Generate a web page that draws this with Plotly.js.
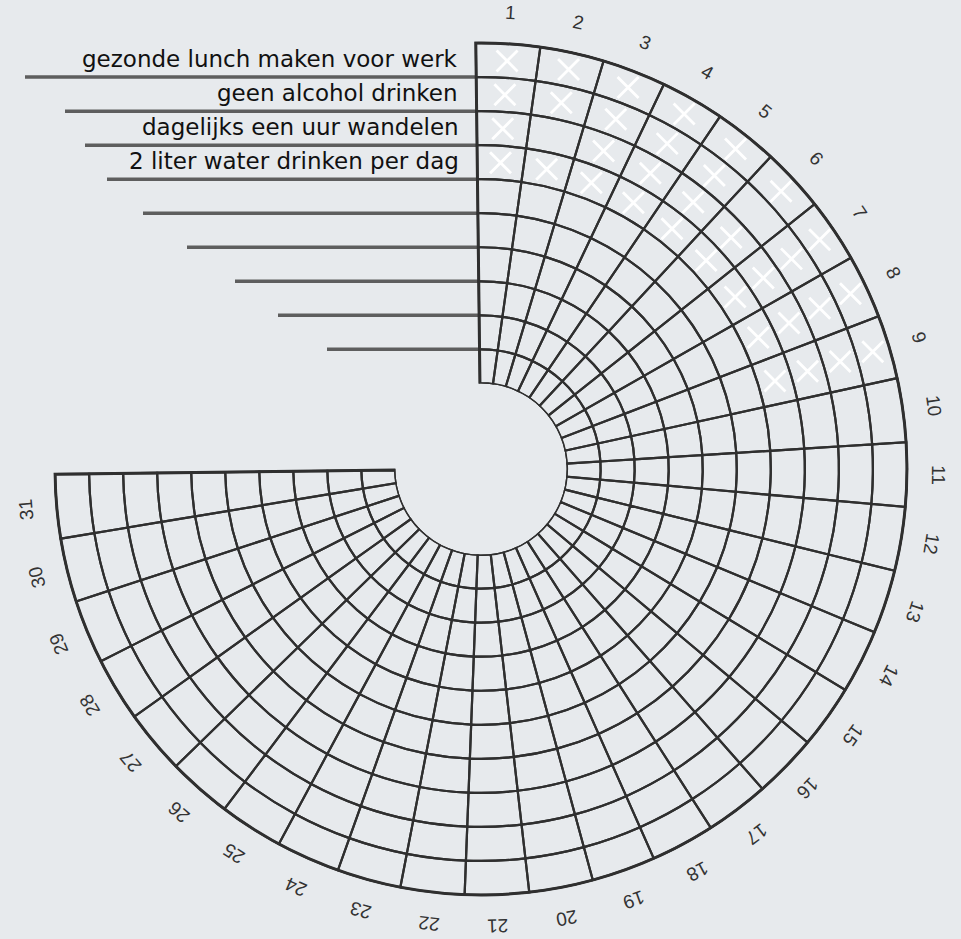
<!DOCTYPE html>
<html>
<head>
<meta charset="utf-8">
<script src="https://cdn.plot.ly/plotly-3.0.1.min.js"></script>
<style>
  html, body { margin: 0; padding: 0; background: #e7eaed; }
  #chart { width: 961px; height: 939px; }
</style>
</head>
<body>
<div id="chart"></div>
<script>
// ---------- data ----------
const days = [1,2,3,4,5,6,7,8,9,10,11,12,13,14,15,16,17,18,19,20,21,22,23,24,25,26,27,28,29,30,31];
const habits = [
  "gezonde lunch maken voor werk",
  "geen alcohol drinken",
  "dagelijks een uur wandelen",
  "2 liter water drinken per dag",
  "", "", "", "", "", ""
];
const doneLunch   = [1,2,3,4,5,6,7,8,9];
const doneAlcohol = [1,2,3,4,5,7,8,9];
const doneWalk    = [1,3,4,5,6,7,8,9];
const doneWater   = [1,2,3,4,5,6,7,8,9];
const doneByHabit = [doneLunch, doneAlcohol, doneWalk, doneWater];

// ---------- layout / style constants ----------
const W = 961, H = 939;
const SWEEP = 270;          // degrees covered by the 31 days
const START = -0.7;         // start angle, clockwise from north
const HOLE = 0.2;
const DOM = { x: [0.05515, 0.94589], y: [0.04473, 0.95634] };
const GRID = '#2f2f2f';
const BG = '#e7eaed';
const labelLineStart = [25, 65, 85, 107, 143, 187, 235, 278, 327]; // px, left ends of guide lines

const nRings = habits.length;
const rMax = nRings + 0.06;   // small headroom so the outer outline is not clipped
const dayW = SWEEP / days.length;
const thetaOf = d => (d - 0.5) * dayW;

// ---------- traces ----------
const traces = [];
habits.forEach((h, k) => {
  traces.push({
    type: 'barpolar',
    theta: days.map(thetaOf),
    r: days.map(() => 1),
    base: days.map(() => nRings - 1 - k),
    width: days.map(() => dayW),
    marker: { color: 'rgba(0,0,0,0)', line: { color: GRID, width: 2.2 } },
    hoverinfo: 'skip',
    showlegend: false
  });
});
// outline of the whole chart (thicker)
traces.push({
  type: 'barpolar',
  theta: [SWEEP / 2], r: [nRings], base: [0], width: [SWEEP],
  marker: { color: 'rgba(0,0,0,0)', line: { color: GRID, width: 3 } },
  hoverinfo: 'skip', showlegend: false
});
doneByHabit.forEach((list, k) => {
  traces.push({
    type: 'scatterpolar',
    mode: 'markers',
    theta: list.map(thetaOf),
    r: list.map(() => nRings - 1 - k + 0.5),
    marker: { symbol: 'x-thin', size: 21, color: '#ffffff', line: { color: '#ffffff', width: 2.8 } },
    hoverinfo: 'skip',
    showlegend: false
  });
});

// ---------- geometry for text & guide lines (same as plotly polar fit) ----------
const cx = W * (DOM.x[0] + DOM.x[1]) / 2;
const cy = H * (1 - (DOM.y[0] + DOM.y[1]) / 2);
const R = Math.min(W * (DOM.x[1] - DOM.x[0]), H * (DOM.y[1] - DOM.y[0])) / 2;
const R0 = R * HOLE;
const rPix = v => R0 + (R - R0) * v / rMax;
const toRad = a => a * Math.PI / 180;
const px = (rp, a) => ({ x: cx + rp * Math.sin(toRad(a)), y: cy - rp * Math.cos(toRad(a)) });
const paperX = x => x / W, paperY = y => 1 - y / H;

const annotations = [];
const shapes = [];

// day labels
days.forEach(d => {
  const a = START + thetaOf(d);
  const p = px(rPix(nRings) + 31, a);
  annotations.push({
    text: String(d), x: paperX(p.x), y: paperY(p.y), xref: 'paper', yref: 'paper',
    xanchor: 'center', yanchor: 'middle', showarrow: false, textangle: a,
    font: { family: 'Liberation Sans, Arial, sans-serif', size: 19, color: '#333333' }
  });
});

// habit labels
habits.forEach((h, k) => {
  if (!h) return;
  const p = px(rPix(nRings - 1 - k + 0.5), START);
  annotations.push({
    text: h, x: paperX(p.x - 16), y: paperY(p.y - 1), xref: 'paper', yref: 'paper',
    xanchor: 'right', yanchor: 'middle', showarrow: false,
    font: { family: 'DejaVu Sans, sans-serif', size: 23, color: '#111111' }
  });
});

// guide lines at ring boundaries
labelLineStart.forEach((x0, b) => {
  const p = px(rPix(nRings - 1 - b), START);
  shapes.push({
    type: 'line', xref: 'paper', yref: 'paper',
    x0: paperX(x0), x1: paperX(p.x), y0: paperY(p.y), y1: paperY(p.y),
    line: { color: '#5e5e5e', width: 3.5 }, layer: 'below'
  });
});

const layout = {
  width: W, height: H,
  margin: { l: 0, r: 0, t: 0, b: 0 },
  paper_bgcolor: BG, plot_bgcolor: BG,
  showlegend: false,
  polar: {
    domain: DOM,
    hole: HOLE,
    bgcolor: 'rgba(0,0,0,0)',
    barmode: 'overlay',
    radialaxis: { range: [0, rMax], showline: false, showgrid: false, showticklabels: false, ticks: '' },
    angularaxis: { direction: 'clockwise', rotation: 90 - START, thetaunit: 'degrees',
                   showline: false, showgrid: false, showticklabels: false, ticks: '' }
  },
  annotations: annotations,
  shapes: shapes
};

Plotly.newPlot('chart', traces, layout, { displayModeBar: false, staticPlot: true });
</script>
</body>
</html>
